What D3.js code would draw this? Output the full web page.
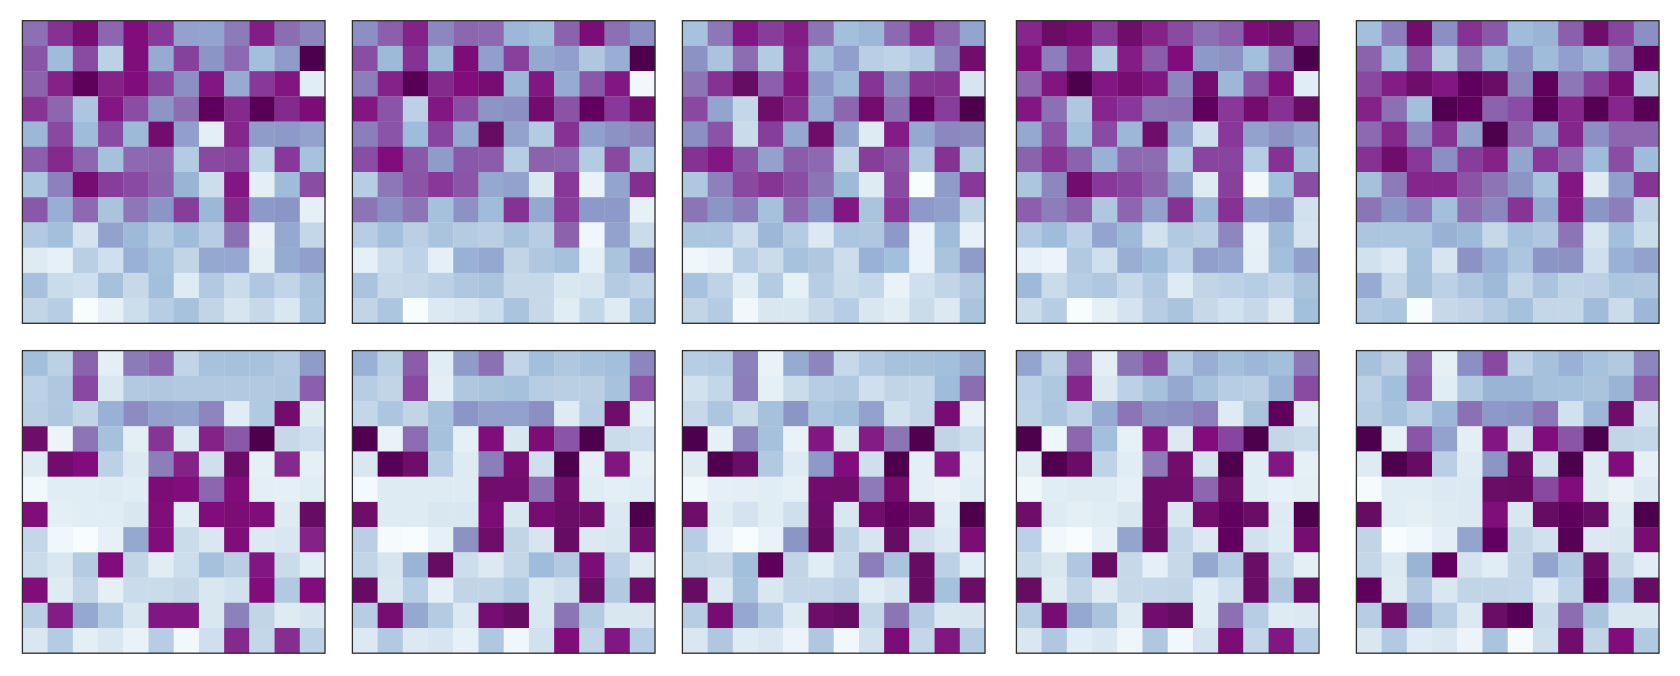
<!DOCTYPE html>
<html>
<head>
<meta charset="utf-8">
<script src="https://cdn.jsdelivr.net/npm/d3@7"></script>
<style>
html, body { margin: 0; padding: 0; background: #fff; }
svg { display: block; }
</style>
</head>
<body>
<svg id="chart" width="1680" height="676"></svg>
<script>
// values, 0 = lightest, 100 = darkest, 12 rows of 12
var heat1 = [
  [61,79,90,64,87,77,46,45,58,84,62,55],
  [69,37,72,26,88,43,75,50,63,36,48,100],
  [65,83,96,83,87,74,52,85,43,77,86,12],
  [78,64,32,85,71,50,62,96,81,97,81,89],
  [39,73,37,72,38,91,47,11,82,48,49,46],
  [66,81,64,35,63,64,29,73,74,25,77,34],
  [32,56,90,76,72,65,40,20,85,11,37,71],
  [68,42,63,33,59,50,76,39,81,49,50,10],
  [30,36,17,46,38,29,37,28,61,8,44,23],
  [13,9,27,19,41,35,24,44,44,11,43,47],
  [35,21,19,35,22,36,13,30,21,31,24,33],
  [24,28,0,9,20,28,34,24,16,22,15,32]
];
var heat2 = [
  [52,66,83,54,64,63,39,36,65,89,61,52],
  [71,38,79,38,89,47,75,44,47,31,42,100],
  [57,83,97,81,87,90,39,85,43,68,85,3],
  [85,69,26,85,71,50,52,91,70,95,77,91],
  [57,69,37,74,44,94,46,29,79,47,51,55],
  [71,87,68,48,68,67,28,65,64,29,73,32],
  [28,59,69,77,69,44,46,15,77,8,45,80],
  [60,52,60,35,51,37,79,44,76,49,49,9],
  [28,36,27,33,29,27,34,28,65,4,46,21],
  [10,20,25,10,41,44,24,31,35,10,33,50],
  [33,22,23,26,31,33,22,22,15,16,29,25],
  [24,32,0,14,16,20,33,22,12,23,13,32]
];
var heat3 = [
  [34,59,85,76,84,60,36,39,63,81,64,45],
  [51,33,62,29,82,35,47,27,25,30,57,91],
  [60,79,94,66,86,48,38,78,53,78,79,16],
  [73,45,23,92,81,44,64,91,62,95,76,100],
  [52,70,21,76,44,92,45,13,84,44,54,53],
  [79,85,69,46,67,63,24,76,70,31,79,31],
  [31,56,73,78,71,60,38,13,72,0,48,77],
  [60,50,57,35,63,50,85,33,77,49,47,24],
  [32,32,20,39,29,14,32,31,49,7,37,9],
  [4,8,28,21,34,31,20,41,36,7,33,48],
  [34,25,12,29,9,28,21,23,8,19,24,30],
  [24,29,3,15,15,22,28,15,12,21,14,33]
];
var heat4 = [
  [82,93,90,76,92,83,72,61,66,89,92,75],
  [88,57,79,29,84,67,87,49,51,36,58,100],
  [64,86,100,85,90,86,55,91,39,68,88,12],
  [85,61,31,82,77,60,61,96,77,91,79,94],
  [44,70,36,72,39,92,47,19,77,46,51,45],
  [65,78,65,41,63,62,29,74,74,28,79,34],
  [32,54,91,77,74,65,46,13,75,3,36,71],
  [66,57,65,31,64,46,79,39,79,47,50,18],
  [30,37,26,45,38,18,30,27,54,9,38,17],
  [9,6,30,19,42,37,25,47,45,10,36,47],
  [38,21,28,31,22,30,13,24,26,28,24,33],
  [21,28,0,10,17,28,33,22,18,22,14,36]
];
var heat5 = [
  [36,57,91,52,79,68,37,40,66,92,74,52],
  [65,36,70,29,60,38,51,37,47,39,58,96],
  [73,84,92,85,96,93,55,96,59,75,90,29],
  [83,61,36,99,96,65,71,97,82,98,82,97],
  [63,81,55,79,46,100,65,45,82,52,64,64],
  [79,92,77,52,76,83,45,77,63,37,71,37],
  [35,58,82,82,70,60,50,34,85,13,47,78],
  [60,50,57,36,62,54,78,44,84,50,57,25],
  [32,32,32,41,38,22,35,31,60,16,36,21],
  [18,14,34,16,51,41,32,50,51,19,41,46],
  [43,22,35,26,32,38,24,33,25,26,32,31],
  [30,32,0,22,24,29,35,23,23,37,21,39]
];
var heat6 = [
  [36,26,65,11,58,64,24,34,35,34,30,48],
  [26,31,73,15,30,31,30,30,30,30,31,66],
  [27,31,24,41,53,46,45,55,12,30,91,13],
  [92,6,60,35,11,78,14,83,68,100,22,19],
  [13,91,87,26,14,57,83,19,93,10,81,10],
  [3,12,12,13,12,89,87,64,88,11,10,12],
  [88,11,12,12,15,88,12,87,89,88,13,94],
  [23,4,0,9,44,87,21,15,88,14,15,83],
  [21,15,29,87,24,12,20,35,27,85,21,12],
  [88,13,24,10,21,21,23,15,18,87,30,87],
  [27,84,44,29,15,85,85,15,56,24,13,16],
  [15,29,11,15,8,28,3,19,81,23,80,26]
];
var heat7 = [
  [41,27,67,12,48,61,24,36,31,34,36,55],
  [28,24,73,11,31,33,35,28,27,27,34,69],
  [23,32,24,34,50,46,46,52,13,28,92,10],
  [99,8,62,35,10,87,15,89,69,100,21,19],
  [15,97,92,28,13,57,90,19,100,11,86,10],
  [2,13,13,13,13,91,91,61,92,12,11,12],
  [92,13,13,15,15,89,15,90,93,92,14,100],
  [27,1,0,9,51,92,24,16,94,14,15,91],
  [24,16,40,94,20,14,23,37,30,89,26,13],
  [94,15,28,10,24,24,29,15,19,93,30,93],
  [28,90,44,29,14,90,94,15,60,29,15,15],
  [14,30,14,16,9,31,4,18,88,24,85,28]
];
var heat8 = [
  [28,29,56,8,43,55,22,30,34,35,36,42],
  [18,23,57,10,21,28,30,19,24,23,37,62],
  [22,32,21,35,50,32,36,46,18,23,90,9],
  [100,9,55,35,8,85,14,84,60,99,24,20],
  [13,99,93,30,13,49,87,19,100,11,85,10],
  [3,10,11,12,10,91,92,58,91,11,8,12],
  [92,12,17,12,19,92,15,91,95,93,12,100],
  [28,8,0,8,50,94,25,16,94,19,14,89],
  [23,22,36,96,24,12,22,57,33,94,26,12],
  [94,14,34,15,23,23,26,12,16,94,35,93],
  [28,90,44,30,13,92,94,23,60,29,15,16],
  [15,31,13,15,6,31,3,18,89,23,86,29]
];
var heat9 = [
  [45,26,64,11,60,71,30,42,36,39,36,59],
  [26,31,82,14,26,35,44,34,28,27,40,72],
  [25,32,25,43,60,50,52,56,13,33,96,12],
  [100,5,64,36,9,86,14,87,74,100,23,21],
  [12,99,93,25,12,58,91,17,100,12,85,10],
  [4,12,13,13,10,92,92,64,93,12,9,11],
  [92,13,11,12,15,92,15,91,95,93,13,100],
  [26,3,0,9,45,93,23,14,95,18,13,90],
  [21,15,31,94,22,10,22,44,29,93,22,11],
  [94,13,24,13,22,23,24,12,19,93,31,93],
  [28,90,44,33,13,91,94,12,61,28,13,14],
  [15,31,12,15,5,31,3,17,89,23,85,28]
];
var heat10 = [
  [35,27,63,10,52,73,26,35,41,34,30,55],
  [26,36,67,12,30,40,40,35,34,33,40,66],
  [28,34,27,39,61,49,50,59,18,39,92,17],
  [100,9,69,46,11,85,16,87,69,100,24,23],
  [13,100,94,27,13,50,93,18,100,13,87,10],
  [1,12,12,14,14,93,94,73,87,13,8,14],
  [94,12,11,13,14,88,15,94,96,94,13,100],
  [24,0,3,11,45,95,23,18,97,14,15,90],
  [23,14,40,95,17,12,23,45,30,94,22,12],
  [96,13,30,15,24,24,23,13,25,96,33,94],
  [28,92,45,28,14,93,97,21,62,33,15,15],
  [15,30,13,15,6,33,1,19,91,24,87,30]
];
var panels = [heat1, heat2, heat3, heat4, heat5, heat6, heat7, heat8, heat9, heat10];

// matplotlib BuPu stops
var buPuStops = ["#f7fcfd", "#e0ecf4", "#bfd3e6", "#9ebcda", "#8c96c6", "#8c6bb1", "#88419d", "#810f7c", "#4d004b"];

var svg = d3.select("#chart");

var panelSize = 302.6;
var lefts = [22.4, 352.4, 682.4, 1016.4, 1356.4];
var tops = [20.7, 350.6];
var indexes = d3.range(12);

var color = d3.scaleLinear()
    .domain(d3.range(9).map(function (i) { return i * 100 / 8; }))
    .range(buPuStops);

var x = d3.scaleBand().domain(indexes).range([0, panelSize]);
var y = d3.scaleBand().domain(indexes).range([0, panelSize]);

// the picture is a resampled raster, so the cell edges are a little soft
var filter = svg.append("defs").append("filter")
    .attr("id", "soft")
    .attr("x", "-2%").attr("y", "-2%")
    .attr("width", "104%").attr("height", "104%");
filter.append("feGaussianBlur").attr("stdDeviation", 0.55);

var panel = svg.selectAll("g.panel")
    .data(panels)
    .enter().append("g")
    .attr("class", "panel")
    .attr("transform", function (d, i) {
        return "translate(" + lefts[i % 5] + "," + tops[Math.floor(i / 5)] + ")";
    });

panel.append("g")
    .attr("filter", "url(#soft)")
    .selectAll("g")
    .data(function (d) { return d; })
    .enter().append("g")
    .attr("transform", function (d, i) { return "translate(0," + y(i) + ")"; })
    .selectAll("rect")
    .data(function (d) { return d; })
    .enter().append("rect")
    .attr("x", function (d, i) { return x(i); })
    .attr("width", x.bandwidth() + 0.3)
    .attr("height", y.bandwidth() + 0.3)
    .attr("fill", function (d) { return color(d); });

panel.append("rect")
    .attr("width", panelSize)
    .attr("height", panelSize)
    .attr("fill", "none")
    .attr("stroke", "#2e2e2e")
    .attr("stroke-width", 1.3);
</script>
</body>
</html>
